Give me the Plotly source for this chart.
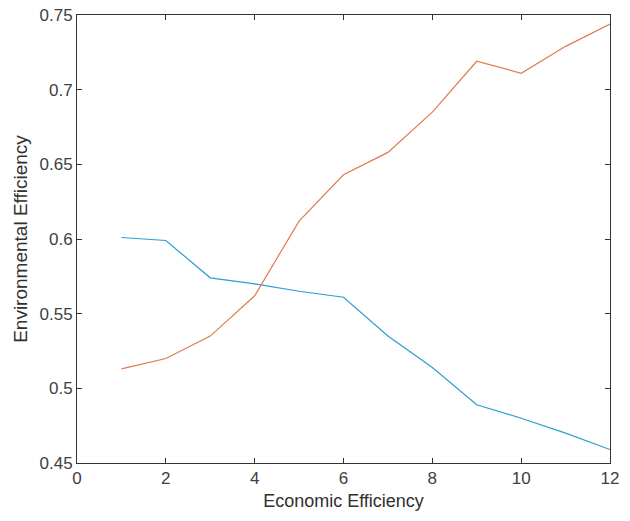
import plotly.graph_objects as go

x_vals = [1, 2, 3, 4, 5, 6, 7, 8, 9, 10, 11, 12]
blue_series = [0.601, 0.599, 0.574, 0.570, 0.565, 0.561, 0.535, 0.514, 0.489, 0.480, 0.470, 0.459]
orange_series = [0.513, 0.520, 0.535, 0.562, 0.612, 0.643, 0.658, 0.685, 0.719, 0.711, 0.729, 0.744]
x_ticks = [0, 2, 4, 6, 8, 10, 12]
y_ticks = [0.45, 0.5, 0.55, 0.6, 0.65, 0.7, 0.75]
y_tick_labels = ["0.45", "0.5", "0.55", "0.6", "0.65", "0.7", "0.75"]

FONT = "Liberation Sans, Arial, sans-serif"

fig = go.Figure()
fig.add_trace(go.Scatter(x=x_vals, y=blue_series, mode="lines",
                         line=dict(color="#2a9fd0", width=1.2), showlegend=False))
fig.add_trace(go.Scatter(x=x_vals, y=orange_series, mode="lines",
                         line=dict(color="#e07a50", width=1.2), showlegend=False))

axis_common = dict(
    showgrid=False, zeroline=False, showline=True, linecolor="#333333", linewidth=1,
    mirror="ticks", ticks="inside", ticklen=5, tickcolor="#333333",
    tickfont=dict(family=FONT, size=17, color="#404040"),
    automargin=False,
)

fig.update_xaxes(range=[0, 12], tickvals=x_ticks, ticktext=[str(v) for v in x_ticks],
                 title=dict(text="Economic Efficiency", standoff=6,
                            font=dict(family=FONT, size=18, color="#303030")),
                 **axis_common)
fig.update_yaxes(range=[0.45, 0.75], tickvals=y_ticks, ticktext=y_tick_labels,
                 title=dict(text="Environmental Efficiency", standoff=6,
                            font=dict(family=FONT, size=19, color="#303030")),
                 **axis_common)

fig.update_layout(
    width=630, height=521,
    margin=dict(l=77, r=20, t=15, b=58, autoexpand=False),
    plot_bgcolor="white", paper_bgcolor="white",
)

fig.write_html("out.html", config={"displayModeBar": False},
               post_script="document.body.style.margin='0';document.body.style.padding='0';")
